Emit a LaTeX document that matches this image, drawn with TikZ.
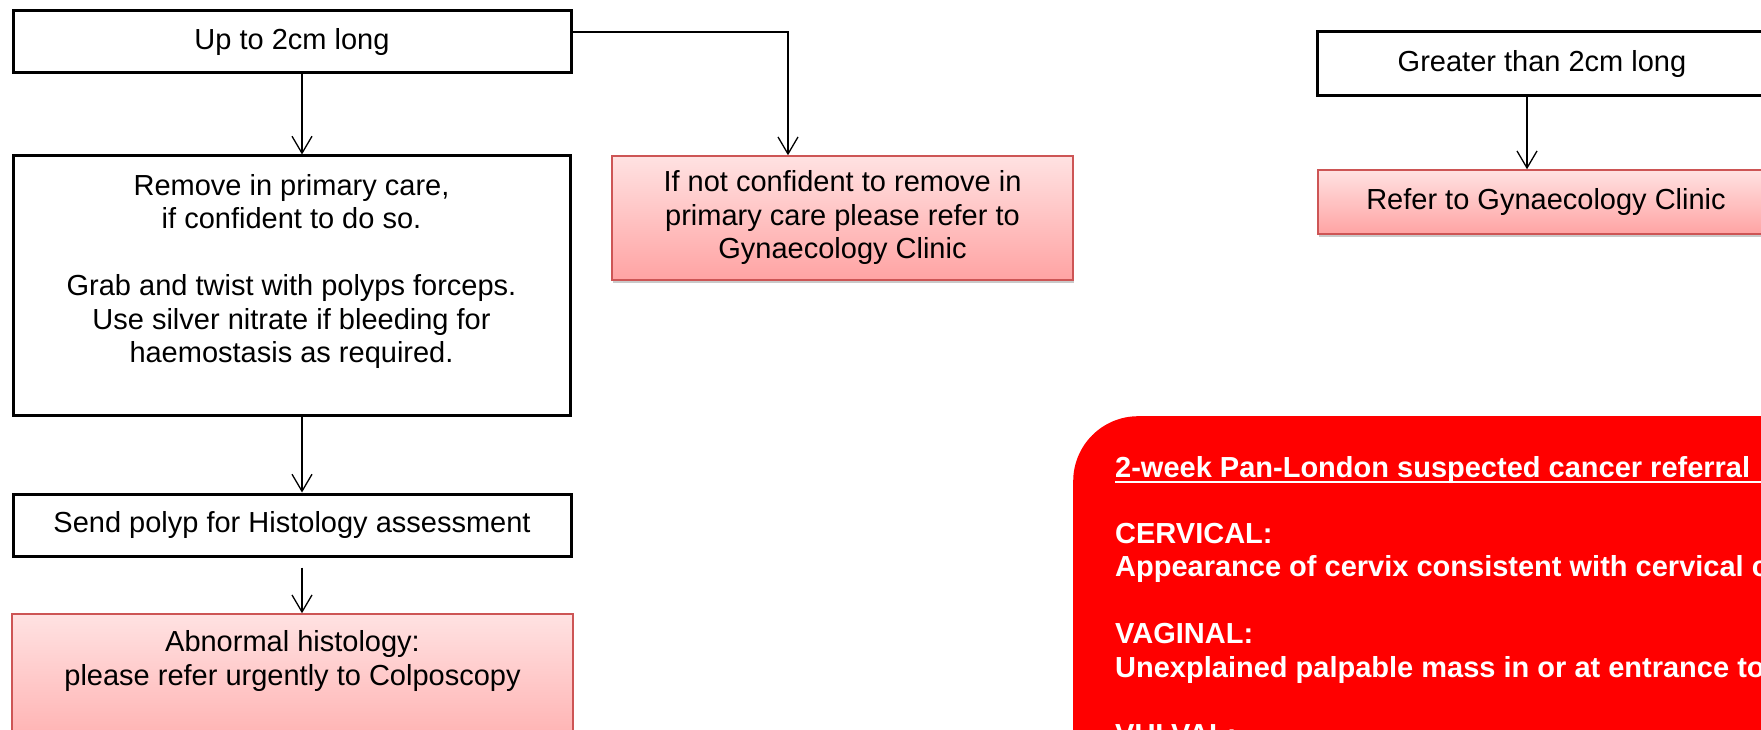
\documentclass[tikz,border=0pt]{standalone}
\usepackage{fontspec}
\setmainfont{Liberation Sans}
\usetikzlibrary{arrows.meta,shadows}
\definecolor{pinktop}{HTML}{FFE2E2}
\definecolor{pinkbot}{HTML}{FFA3A3}
\definecolor{pinkline}{HTML}{CD5555}
\definecolor{panelred}{HTML}{FF0000}
\begin{document}
\begin{tikzpicture}[x=1pt,y=-1pt,
  every node/.style={font=\fontsize{29}{33.5}\selectfont, inner sep=0pt},
  blackbox/.style={draw=black, line width=3pt, fill=white, rectangle},
  pinkbox/.style={draw=pinkline, line width=1.5pt, top color=pinktop, bottom color=pinkbot,
    drop shadow={shadow xshift=1pt, shadow yshift=-3pt, opacity=0.3, fill=black!70}},
  conn/.style={line width=1.3pt, -{Straight Barb[length=17pt,width=20pt]}},
  txt/.style={align=center},
  paneltext/.style={anchor=base west, text=white, font=\fontsize{29}{33.5}\selectfont\bfseries}]
\useasboundingbox (0,0) rectangle (1761,730);
\clip (0,0) rectangle (1761,730);

% left column
\node[blackbox, minimum width=558pt, minimum height=62pt] (up) at (292,42) {Up to 2cm long};
\node[blackbox, minimum width=557pt, minimum height=259pt] (remove) at (291.5,285.5) {};
\node[txt] (removetxt) at (291.5,271.5) {Remove in primary care,\\ if confident to do so.\\[33.5pt] Grab and twist with polyps forceps.\\ Use silver nitrate if bleeding for\\ haemostasis as required.};
\node[blackbox, minimum width=558pt, minimum height=62pt] (send) at (292,525) {Send polyp for Histology assessment};
\node[pinkbox, minimum width=561pt, minimum height=166pt] (abn) at (292.5,697) {};
\node[txt] (abntxt) at (292.5,661) {Abnormal histology:\\ please refer urgently to Colposcopy};

% middle
\node[pinkbox, txt, minimum width=461pt, minimum height=124pt] (conf) at (842.5,218) {If not confident to remove in\\ primary care please refer to\\ Gynaecology Clinic};

% right column
\node[blackbox, minimum width=450pt, minimum height=64pt] (greater) at (1542,64) {Greater than 2cm long};
\node[pinkbox, minimum width=456pt, minimum height=64pt] (refer) at (1546,202) {Refer to Gynaecology Clinic};

% red panel
\node[fill=panelred, rounded corners=65pt, minimum width=900pt, minimum height=500pt, anchor=north west] (panel) at (1073,416) {};
\node[paneltext] (title) at (1115,477) {2-week Pan-London suspected cancer referral};
\draw[white, line width=2pt] ([yshift=-5pt]title.base west) -- ++(700,0);
\node[paneltext] (cerv) at (1115,543) {CERVICAL:};
\node[paneltext] (cervtxt) at (1115,576) {Appearance of cervix consistent with cervical c};
\node[paneltext] (vag) at (1115,643) {VAGINAL:};
\node[paneltext] (vagtxt) at (1115,677) {Unexplained palpable mass in or at entrance to};
\node[paneltext] (vulv) at (1115,744) {VULVAL:};

% connectors
\draw[conn] ([xshift=10pt]up.south) -- ([xshift=10.5pt]remove.north);
\draw[conn] ([yshift=10pt]up.east) -| ([xshift=-54.5pt]conf.north);
\draw[conn] ([xshift=10.5pt]remove.south) -- ([xshift=10pt]send.north);
\draw[conn, shorten <=10pt] ([xshift=10pt]send.south) -- ([xshift=9.5pt]abn.north);
\draw[conn] ([xshift=-15pt]greater.south) -- ([xshift=-19pt]refer.north);
\end{tikzpicture}
\end{document}
